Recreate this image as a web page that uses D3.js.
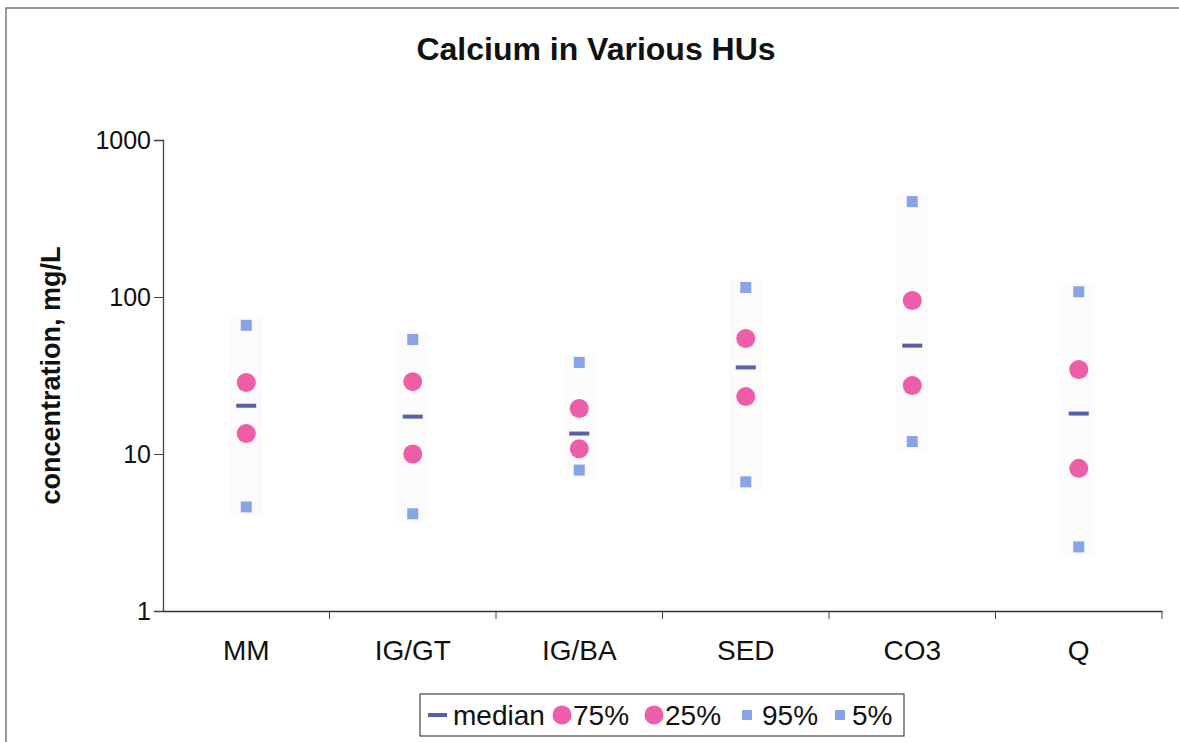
<!DOCTYPE html>
<html>
<head>
<meta charset="utf-8">
<script src="https://cdn.jsdelivr.net/npm/d3@7"></script>
<style>
  body { margin: 0; background: #fff; }
  text { font-family: "Liberation Sans", Arial, sans-serif; fill: #111; }
</style>
</head>
<body>
<div id="chart"></div>
<script>
//Data
let categories = ["MM", "IG/GT", "IG/BA", "SED", "CO3", "Q"];
let median = [20.3, 17.3, 13.5, 35.6, 49, 18.1];
let p75 = [28.5, 28.9, 19.5, 54.4, 95, 34.5];
let p25 = [13.5, 10.0, 10.8, 23.2, 27.3, 8.1];
let p95 = [66, 53.6, 38.3, 115, 405, 108];
let p5 = [4.6, 4.16, 7.9, 6.65, 12, 2.56];
let yTicks = [1, 10, 100, 1000];

let width = 1179,
  height = 742;
let margin = {top: 140, right: 17, bottom: 131, left: 163};

let svg = d3.select("#chart").append("svg")
  .attr("width", width)
  .attr("height", height);

//page frame
svg.append("path")
  .attr("d", "M6,742 V8 H1179")
  .attr("fill", "none")
  .attr("stroke", "#777")
  .attr("stroke-width", 1.5);

let x = d3.scaleBand()
  .domain(categories)
  .range([margin.left, width - margin.right]);

let y = d3.scaleLog()
  .domain([1, 1000])
  .range([height - margin.bottom, margin.top]);

//title
svg.append("text")
  .attr("x", 596)
  .attr("y", 60)
  .attr("text-anchor", "middle")
  .style("font-size", "32px")
  .style("font-weight", "bold")
  .text("Calcium in Various HUs");

//y axis
let yAxis = d3.axisLeft(y)
  .tickValues(yTicks)
  .tickFormat(d3.format("d"))
  .tickSize(9);
let gy = svg.append("g")
  .attr("transform", "translate(" + margin.left + ",0)")
  .call(yAxis);
gy.select(".domain").attr("stroke", "#444").attr("stroke-width", 1.3);
gy.selectAll(".tick line").attr("stroke", "#444");
gy.selectAll(".tick text")
  .attr("x", -12)
  .style("font-size", "25px")
  .style("font-family", "Liberation Sans, Arial, sans-serif");

//x axis
let xAxis = d3.axisBottom(x).tickSize(0).tickPadding(29);
let gx = svg.append("g")
  .attr("transform", "translate(0," + (height - margin.bottom) + ")")
  .call(xAxis);
gx.select(".domain").attr("stroke", "#333").attr("stroke-width", 1.5);
gx.selectAll(".tick text")
  .style("font-size", "28px")
  .style("font-family", "Liberation Sans, Arial, sans-serif");
//category divider ticks
gx.selectAll(".divider")
  .data(categories.slice(1).concat(["end"]))
  .enter().append("line")
  .attr("x1", function (d) { return d === "end" ? width - margin.right : x(d); })
  .attr("x2", function (d) { return d === "end" ? width - margin.right : x(d); })
  .attr("y1", 0)
  .attr("y2", 8)
  .attr("stroke", "#444");

//y label
svg.append("text")
  .attr("transform", "translate(60," + ((margin.top + height - margin.bottom) / 2) + ") rotate(-90)")
  .attr("text-anchor", "middle")
  .style("font-size", "27px")
  .style("font-weight", "bold")
  .text("concentration, mg/L");

let cx = function (i) { return x(categories[i]) + x.bandwidth() / 2; };

//faint range bands behind the markers
svg.append("g")
  .selectAll("rect")
  .data(categories)
  .enter().append("rect")
  .attr("x", function (d, i) { return cx(i) - 16; })
  .attr("y", function (d, i) { return y(p95[i]) - 8; })
  .attr("width", 32)
  .attr("height", function (d, i) { return y(p5[i]) - y(p95[i]) + 16; })
  .attr("fill", "#fbfbfb");

let pink = "#ee5da8",
  blue = "#8aa3e6",
  navy = "#5b5fa8";

function squares(vals) {
  svg.append("g")
    .selectAll("rect")
    .data(vals)
    .enter().append("rect")
    .attr("x", function (d, i) { return cx(i) - 5.5; })
    .attr("y", function (d) { return y(d) - 5.5; })
    .attr("width", 11)
    .attr("height", 11)
    .attr("fill", blue);
}
function circles(vals) {
  svg.append("g")
    .selectAll("circle")
    .data(vals)
    .enter().append("circle")
    .attr("cx", function (d, i) { return cx(i); })
    .attr("cy", function (d) { return y(d); })
    .attr("r", 9.5)
    .attr("fill", pink);
}

squares(p95);
squares(p5);
circles(p75);
circles(p25);

svg.append("g")
  .selectAll("rect")
  .data(median)
  .enter().append("rect")
  .attr("x", function (d, i) { return cx(i) - 10; })
  .attr("y", function (d) { return y(d) - 2; })
  .attr("width", 20)
  .attr("height", 4)
  .attr("fill", navy);

//legend
let legend = svg.append("g").attr("transform", "translate(420,694)");
legend.append("rect")
  .attr("width", 484)
  .attr("height", 42)
  .attr("fill", "#fff")
  .attr("stroke", "#444")
  .attr("stroke-width", 1.2);

let items = [
  {label: "median", type: "median", x: 8, tx: 33},
  {label: "75%", type: "circle", x: 142, tx: 153},
  {label: "25%", type: "circle", x: 234, tx: 245},
  {label: "95%", type: "square", x: 327, tx: 342},
  {label: "5%", type: "square", x: 420, tx: 432}
];
items.forEach(function (it) {
  let g = legend.append("g").attr("transform", "translate(0,21)");
  if (it.type === "median") {
    g.append("rect").attr("x", it.x).attr("y", -2).attr("width", 19).attr("height", 4).attr("fill", navy);
  } else if (it.type === "circle") {
    g.append("circle").attr("cx", it.x).attr("cy", 0).attr("r", 9.5).attr("fill", pink);
  } else {
    g.append("rect").attr("x", it.x - 5).attr("y", -5).attr("width", 10).attr("height", 10).attr("fill", blue);
  }
  g.append("text")
    .attr("x", it.tx)
    .attr("y", 10)
    .style("font-size", "28px")
    .text(it.label);
});
</script>
</body>
</html>
